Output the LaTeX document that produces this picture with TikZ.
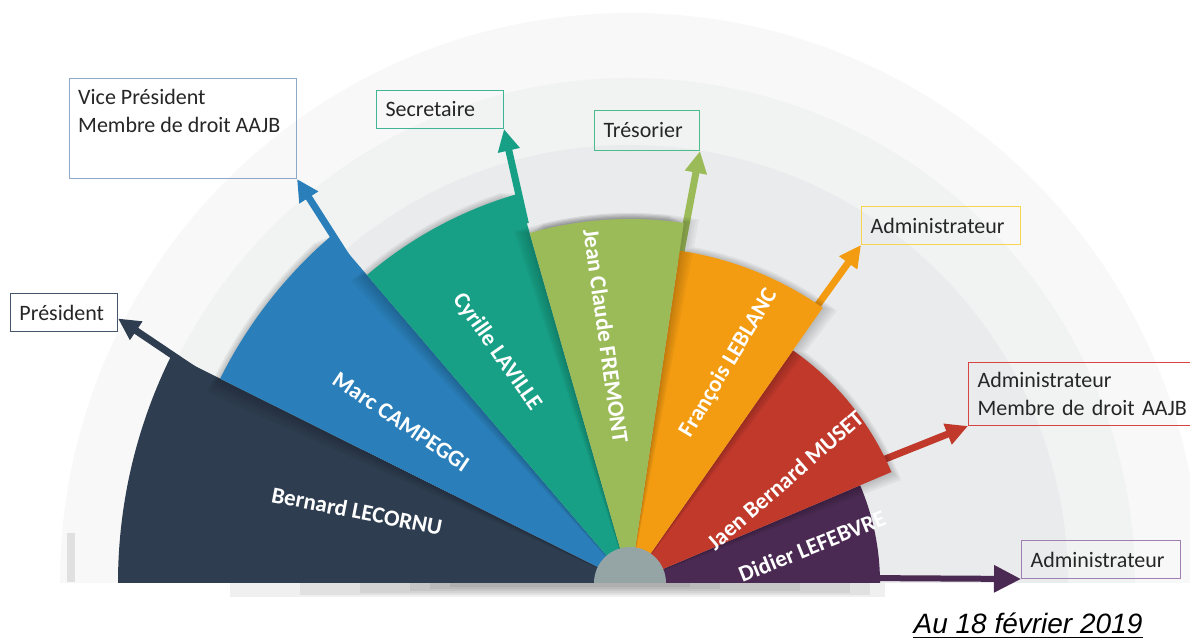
\documentclass[tikz,border=0pt]{standalone}
\usepackage{fontspec}
\setmainfont{Carlito}
\newfontfamily\datefont{Liberation Sans}
\usetikzlibrary{arrows.meta,calc}
\definecolor{cnavy}{HTML}{2E3E50}
\definecolor{cblue}{HTML}{2A7FBA}
\definecolor{cteal}{HTML}{17A085}
\definecolor{cgreen}{HTML}{9BBB59}
\definecolor{corange}{HTML}{F39C12}
\definecolor{cred}{HTML}{C0392B}
\definecolor{cpurple}{HTML}{4A2A52}
\definecolor{chub}{HTML}{95A5A6}
\definecolor{ringa}{HTML}{F8F8F8}
\definecolor{ringb}{HTML}{F1F2F2}
\definecolor{ringc}{HTML}{EAEBEC}
\definecolor{bpres}{HTML}{44546A}
\definecolor{bvp}{HTML}{8EA9C8}
\definecolor{bsec}{HTML}{40B593}
\definecolor{btres}{HTML}{4DBB8B}
\definecolor{badma}{HTML}{F7D54F}
\definecolor{badmb}{HTML}{D64541}
\definecolor{badmc}{HTML}{A07FB3}
\tikzset{
  rolebox/.style={draw=#1, line width=1pt, inner xsep=9pt, inner ysep=0pt, align=left,
    anchor=north west, font=\fontsize{22}{28.5}\selectfont, text=black!85},
  roletext/.style={inner sep=0pt, align=left, anchor=north west,
    font=\fontsize{22}{28.5}\selectfont, text=black!85},
  rolearrow/.style={draw=#1, line width=7pt, -{Triangle[length=22pt,width=21pt]}},
  namefg/.style={text=white, font=\fontsize{23}{26}\selectfont\bfseries, inner sep=0pt},
  datest/.style={font=\datefont\itshape\fontsize{28}{32}\selectfont, inner sep=0pt, text=black},
  baseshadow/.style={fill=black, opacity=0.06}
}
\newcommand\fanwedge[4]{\fill[#1] (C) -- ++(#2:#4) arc[start angle=#2, end angle=#3, radius=#4] -- cycle;}
\newcommand\fanshadow[4]{%
  \foreach \k in {1,...,5}{
    \fill[black,opacity=0.04] (C) -- ++({#1+#4*\k*0.45}:{#3+\k*1.2})
      arc[start angle={#1+#4*\k*0.45}, end angle={#2+#4*\k*0.45}, radius={#3+\k*1.2}] -- cycle;
  }}
\newcommand\fanname[5]{%
  \node[namefg, rotate=#4] (#1) at (#2,#3) {#5};}
\begin{document}
\begin{tikzpicture}[x=1pt,y=1pt]
\useasboundingbox (0,0) rectangle (1190,642);
\fill[white] (0,0) rectangle (1190,642);
\coordinate (C) at (630,59);
% background rings
\fill[ringa] (C) ++(570,0) arc[start angle=0, end angle=180, radius=570] -- cycle;
\fill[ringb] (C) ++(505,0) arc[start angle=0, end angle=180, radius=505] -- cycle;
\fill[ringc] (C) ++(438,0) arc[start angle=0, end angle=180, radius=438] -- cycle;
\fill[black!12] (67,60) rectangle (75,109);
% bottom shadow (stacked soft strips)
\path[baseshadow] (230,45) rectangle (885,59);
\path[baseshadow] (300,47) rectangle (870,59);
\path[baseshadow] (360,49) rectangle (850,59);
\path[baseshadow] (410,51) rectangle (800,59);
\path[baseshadow] (430,53) rectangle (720,59);
\path[baseshadow] (450,55) rectangle (690,59);
% boxes
\node[rolebox=bpres, text width=89pt, minimum height=38pt] (pres) at (10,349) {Président};
\node[rolebox=bvp, minimum width=227pt, minimum height=100pt] (vpbox) at (69,564) {};
\node[roletext] (vptxt) at ([xshift=9pt,yshift=-11pt]vpbox.north west) {Vice Président\\Membre de droit AAJB};
\node[rolebox=bsec, text width=109pt, minimum height=38pt] (sec) at (376,552) {Secretaire};
\node[rolebox=btres, text width=87pt, minimum height=40pt] (tres) at (594,532) {Trésorier};
\node[rolebox=badma, text width=141pt, minimum height=38pt] (adma) at (861,436) {Administrateur};
\node[rolebox=badmb, text width=222pt, minimum height=63pt] (admb) at (968,280) {Administrateur\\Membre de droit AAJB};
\node[rolebox=badmc, text width=141pt, minimum height=38pt] (admc) at (1021,102) {Administrateur};
% arrow start points inside the sectors
\coordinate (snavy) at (199,269);
\coordinate (sblue) at (350.6,379);
\coordinate (steal) at (525.4,418.3);
\coordinate (sgreen) at (679,380);
\coordinate (sorange) at ($(C)+(56:330)$);
\coordinate (sred) at ($(C)+(26:278)$);
\coordinate (spurple) at (860,64);
% arrows
\draw[rolearrow=cnavy] (snavy) -- ([yshift=-6pt]pres.east);
\draw[rolearrow=cblue] (sblue) -- (vpbox.south east);
\draw[rolearrow=cteal] (steal) -- (sec.south east);
\draw[rolearrow=cgreen] (sgreen) -- (tres.south east);
\draw[rolearrow=corange] (sorange) -- (adma.south west);
\draw[rolearrow=cred] (sred) -- (admb.south west);
\draw[rolearrow=cpurple, line width=6pt, -{Triangle[length=27pt,width=26pt]}] (spurple) -- (admc.south west);
% sectors, left side
\fanwedge{cnavy}{153.5}{180}{512}
\fanshadow{130.5}{153.5}{458}{1}
\fanwedge{cblue}{130.5}{153.5}{458}
\fanshadow{106}{130.5}{405}{1}
\fanwedge{cteal}{106}{130.5}{405}
% sectors, right side
\fanwedge{cpurple}{0}{23}{250}
\fanshadow{23}{55}{284}{-1}
\fanwedge{cred}{23}{55}{284}
\fanshadow{55}{81.5}{336}{-1}
\fanwedge{corange}{55}{81.5}{336}
% centre sector
\fanshadow{81.5}{106}{364}{1}
\fanshadow{81.5}{106}{364}{-1}
\fanwedge{cgreen}{81.5}{106}{364}
% hub
\fill[chub] (C) ++(36,0) arc[start angle=0, end angle=180, radius=36] -- cycle;
% names
\fanname{nnavy}{357}{131}{-11}{Bernard LECORNU}
\fanname{nblue}{401}{220}{-34}{Marc CAMPEGGI}
\fanname{nteal}{497}{290}{-55}{Cyrille LAVILLE}
\fanname{ngreen}{606}{306}{-82}{Jean Claude FREMONT}
\fanname{norange}{729}{279}{59}{François LEBLANC}
\fanname{nred}{785}{162}{41}{Jaen Bernard MUSET}
\fanname{npurple}{812}{96}{22}{Didier LEFEBVRE}
% date
\node[datest, anchor=base] (date) at (1028,9) {Au 18 février 2019};
\draw[line width=1.8pt] ([yshift=-4.5pt]date.base west) -- ([yshift=-4.5pt]date.base east);
\end{tikzpicture}
\end{document}
